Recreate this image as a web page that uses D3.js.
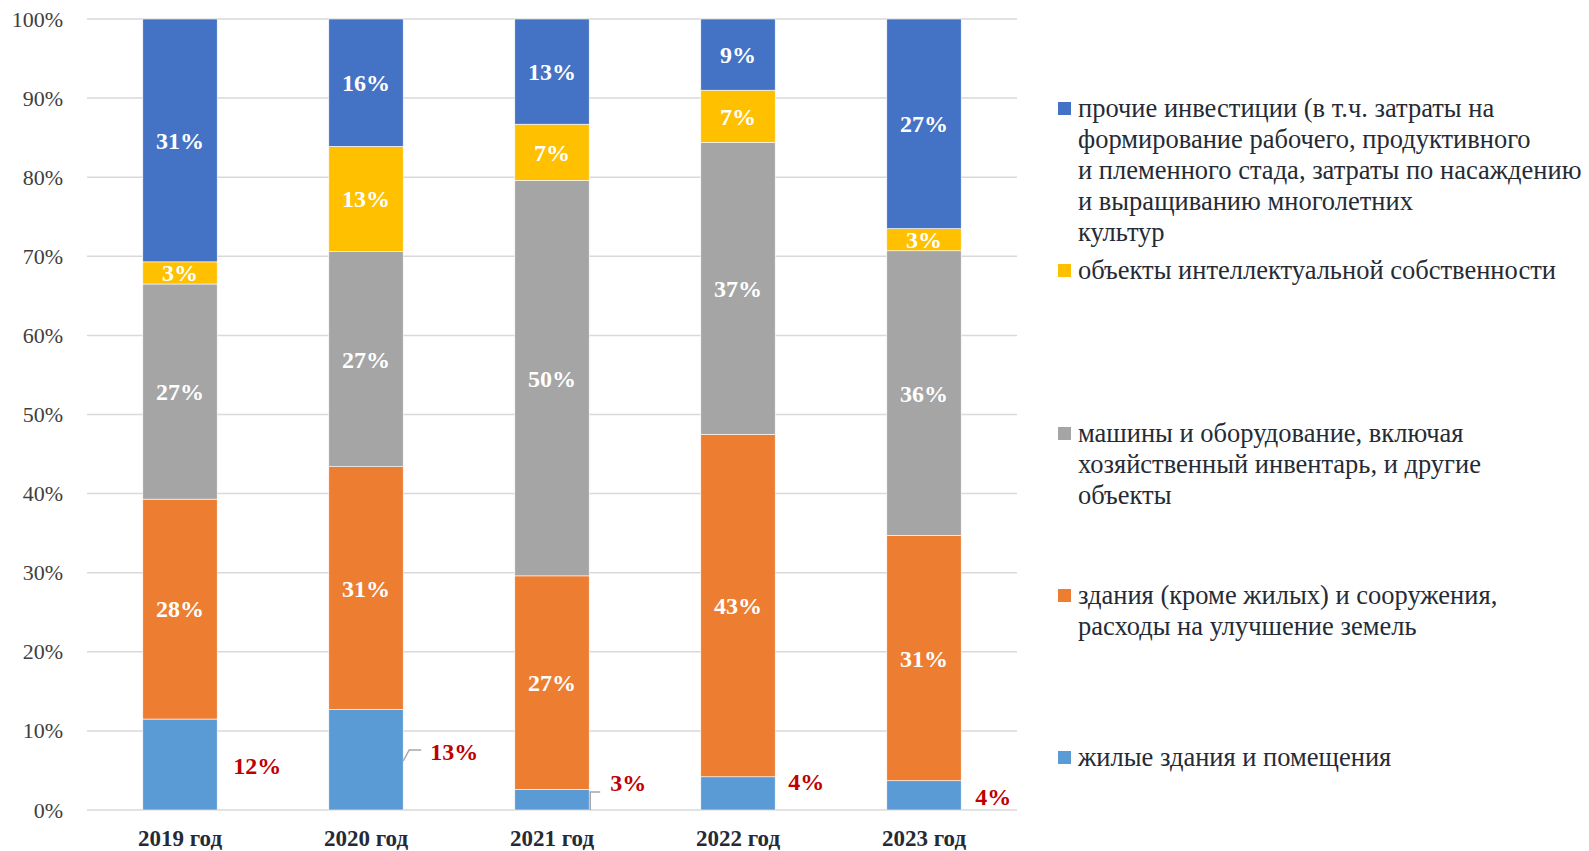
<!DOCTYPE html>
<html lang="ru">
<head>
  <meta charset="UTF-8">
  <title>Структура инвестиций</title>
  <style>
    body {
      margin: 0;
      background: #fff;
    }
  </style>
  <script src="https://d3js.org/d3.v7.min.js"></script>
</head>
<body>
  <svg id="chart" width="1589" height="851"></svg>

  <script>
    // Data (shares, %)
    const years = ['2019 год', '2020 год', '2021 год', '2022 год', '2023 год'];
    const housing = [11.5, 12.7, 2.6, 4.2, 3.7];
    const buildings = [27.8, 30.7, 27.0, 43.3, 31.0];
    const machinery = [27.2, 27.2, 50.0, 36.9, 36.0];
    const intellectual = [2.8, 13.3, 7.1, 6.6, 2.8];
    const other = [30.7, 16.1, 13.3, 9.0, 26.5];
    const yTicks = [0, 10, 20, 30, 40, 50, 60, 70, 80, 90, 100];

    const seriesKeys = ['housing', 'buildings', 'machinery', 'intellectual', 'other'];
    const seriesValues = { housing, buildings, machinery, intellectual, other };
    const colors = {
      housing: '#5b9bd5',
      buildings: '#ed7d31',
      machinery: '#a5a5a5',
      intellectual: '#ffc000',
      other: '#4472c4'
    };
    const legendLines = {
      other: ['прочие инвестиции (в т.ч. затраты на', 'формирование рабочего, продуктивного',
              'и племенного стада, затраты по насаждению', 'и выращиванию многолетних', 'культур'],
      intellectual: ['объекты интеллектуальной собственности'],
      machinery: ['машины и оборудование, включая', 'хозяйственный инвентарь, и другие', 'объекты'],
      buildings: ['здания (кроме жилых) и сооружения,', 'расходы на улучшение земель'],
      housing: ['жилые здания и помещения']
    };

    const serif = '"Liberation Serif", "Times New Roman", serif';
    const textColor = '#252b36';
    const svg = d3.select('#chart');
    const plot = { left: 87, right: 1017, top: 19, bottom: 810 };

    const x = d3.scaleBand()
      .domain(years)
      .range([plot.left, plot.right])
      .paddingInner(0.6)
      .paddingOuter(0.3);

    const y = d3.scaleLinear()
      .domain([0, 100])
      .range([plot.bottom, plot.top]);

    // Gridlines
    svg.append('g')
      .selectAll('line')
      .data(yTicks)
      .join('line')
      .attr('x1', plot.left)
      .attr('x2', plot.right)
      .attr('y1', d => y(d))
      .attr('y2', d => y(d))
      .attr('stroke', '#d9d9d9')
      .attr('stroke-width', 1.5);

    // Y axis labels
    const yAxis = d3.axisLeft(y)
      .tickValues(yTicks)
      .tickFormat(d => d + '%')
      .tickSize(0)
      .tickPadding(0);

    svg.append('g')
      .attr('transform', `translate(${plot.left - 24},0)`)
      .call(yAxis)
      .call(g => g.select('.domain').remove())
      .selectAll('text')
      .style('font-family', serif)
      .style('font-size', '22px')
      .attr('fill', '#404040');

    // Stack
    const table = years.map((yr, i) => {
      const row = { year: yr };
      seriesKeys.forEach(k => { row[k] = seriesValues[k][i]; });
      return row;
    });
    const stacked = d3.stack().keys(seriesKeys)(table);

    const layers = svg.append('g')
      .selectAll('g')
      .data(stacked)
      .join('g')
      .attr('fill', d => colors[d.key]);

    layers.selectAll('rect')
      .data(d => d)
      .join('rect')
      .attr('x', d => x(d.data.year))
      .attr('width', x.bandwidth())
      .attr('y', d => y(d[1]))
      .attr('height', d => y(d[0]) - y(d[1]))
      .attr('stroke', '#fff')
      .attr('stroke-width', 0.6);

    // White labels inside segments (all but housing)
    stacked.filter(s => s.key !== 'housing').forEach(s => {
      svg.append('g')
        .selectAll('text')
        .data(s)
        .join('text')
        .attr('x', d => x(d.data.year) + x.bandwidth() / 2)
        .attr('y', d => (y(d[0]) + y(d[1])) / 2)
        .attr('dy', '0.35em')
        .attr('text-anchor', 'middle')
        .style('font-family', serif)
        .style('font-size', '24px')
        .style('font-weight', 'bold')
        .attr('fill', '#fff')
        .text(d => Math.round(d[1] - d[0]) + '%');
    });

    // Housing labels outside bars (red), offsets from bar right edge / baseline
    const outside = [
      { dx: 16, dy: -44, leader: null },
      { dx: 27, dy: -58, leader: [[0, -49], [6, -60], [18, -60]] },
      { dx: 21, dy: -27, leader: [[1, 0], [1, -18], [11, -18]] },
      { dx: 13, dy: -28, leader: null },
      { dx: 14, dy: -13, leader: null }
    ];

    years.forEach((yr, i) => {
      const bx = x(yr) + x.bandwidth();
      const o = outside[i];
      if (o.leader) {
        svg.append('path')
          .attr('d', d3.line()(o.leader.map(p => [bx + p[0], y(0) + p[1]])))
          .attr('fill', 'none')
          .attr('stroke', '#a6a6a6')
          .attr('stroke-width', 1.5);
      }
      svg.append('text')
        .attr('x', bx + o.dx)
        .attr('y', y(0) + o.dy)
        .attr('dy', '0.35em')
        .style('font-family', serif)
        .style('font-size', '24px')
        .style('font-weight', 'bold')
        .attr('fill', '#c00000')
        .text(Math.round(housing[i]) + '%');
    });

    // Category labels
    svg.append('g')
      .selectAll('text')
      .data(years)
      .join('text')
      .attr('x', d => x(d) + x.bandwidth() / 2)
      .attr('y', 846)
      .attr('text-anchor', 'middle')
      .style('font-family', serif)
      .style('font-size', '23px')
      .style('font-weight', 'bold')
      .attr('fill', textColor)
      .text(d => d);

    // Legend
    const legendTop = { other: 108, intellectual: 270, machinery: 433, buildings: 595, housing: 757 };
    const lineH = 31;
    const legend = svg.append('g');

    seriesKeys.slice().reverse().forEach(k => {
      const g = legend.append('g').attr('transform', `translate(1058,${legendTop[k]})`);
      g.append('rect')
        .attr('x', 0)
        .attr('y', -6)
        .attr('width', 13)
        .attr('height', 13)
        .attr('fill', colors[k]);
      g.append('text')
        .style('font-family', serif)
        .style('font-size', '26.5px')
        .attr('fill', textColor)
        .selectAll('tspan')
        .data(legendLines[k])
        .join('tspan')
        .attr('x', 20)
        .attr('y', (d, i) => i * lineH)
        .attr('dy', '0.35em')
        .text(d => d);
    });
  </script>
</body>
</html>
